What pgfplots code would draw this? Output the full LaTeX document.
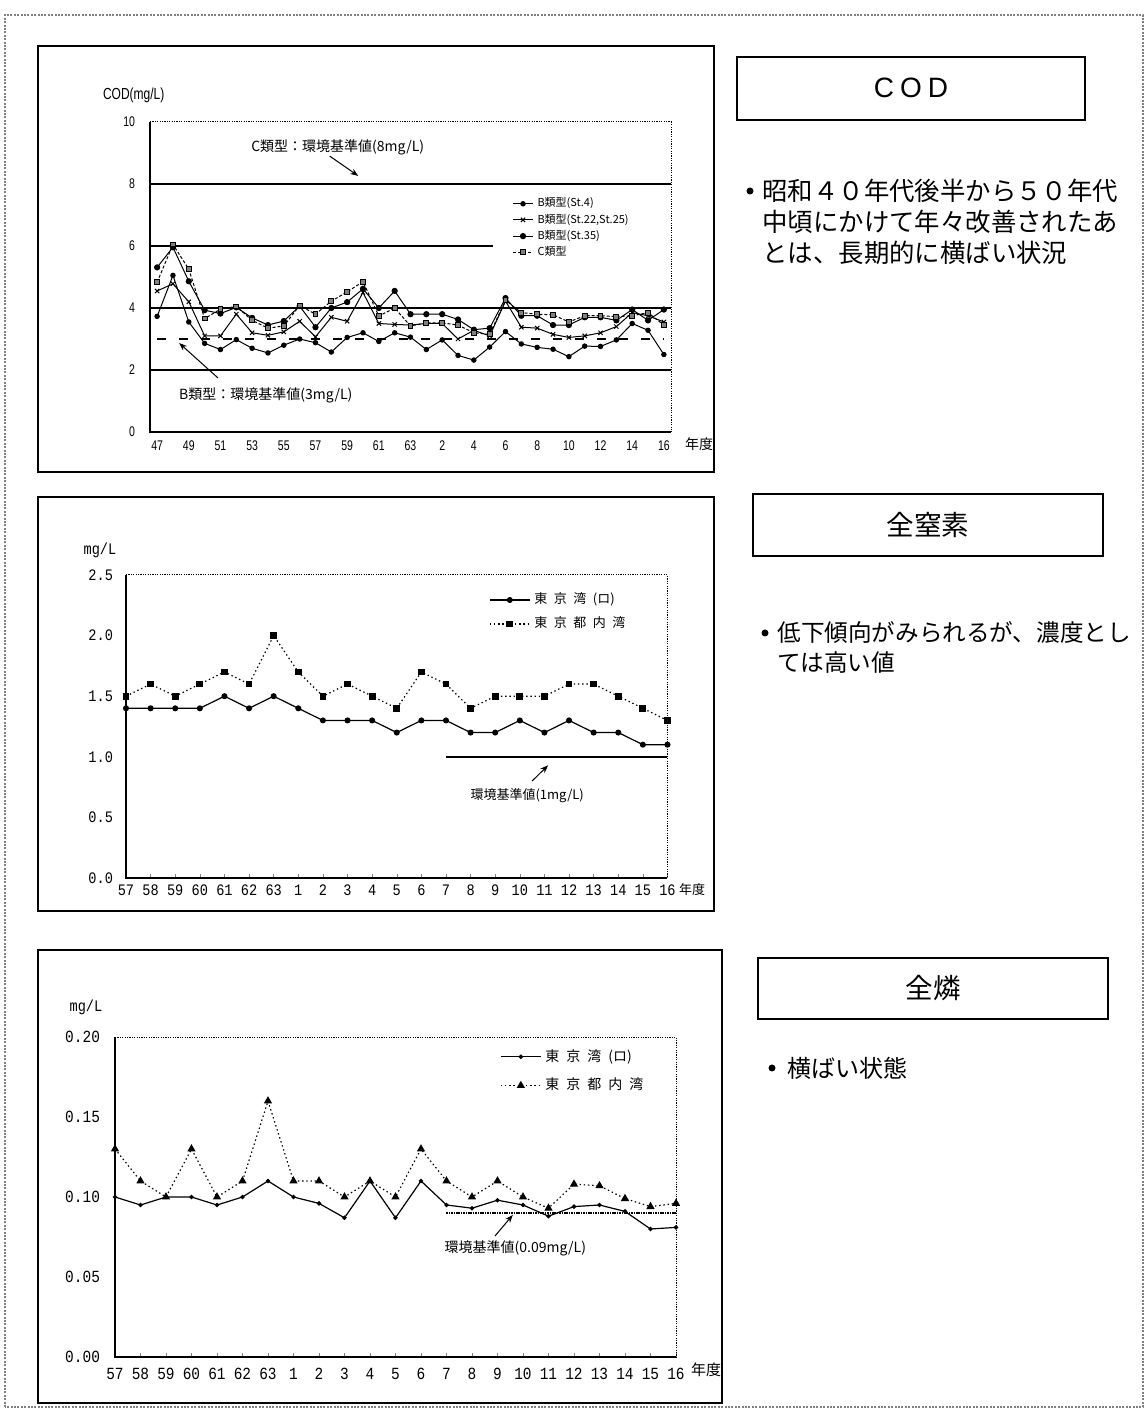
\documentclass[border=0pt]{standalone}
\usepackage{fontspec}
\setmainfont{Noto Sans CJK JP}
\newfontfamily\codfont[FakeStretch=0.75]{Liberation Sans}
\newfontfamily\sansfont{Liberation Sans}
\newfontfamily\monofont[FakeStretch=0.85]{Liberation Mono}
\usepackage{pgfplots}
\usepackage{pgfplotstable}
\pgfplotsset{compat=1.18}
\usetikzlibrary{arrows.meta}

\pgfplotstableread{
i st4 st22 st35 c
0 3.73 4.55 5.31 4.83
1 5.05 4.78 5.96 6.05
2 3.55 4.20 4.86 5.25
3 2.86 3.10 3.93 3.66
4 2.66 3.10 3.82 3.96
5 2.98 3.80 4.02 4.05
6 2.70 3.20 3.68 3.60
7 2.55 3.12 3.45 3.35
8 2.80 3.23 3.58 3.42
9 3.00 3.57 4.06 4.08
10 2.88 3.07 3.38 3.80
11 2.58 3.70 4.00 4.22
12 3.05 3.57 4.19 4.52
13 3.20 4.50 4.62 4.85
14 2.92 3.50 4.00 3.74
15 3.20 3.47 4.55 4.00
16 3.06 3.45 3.80 3.42
17 2.66 3.50 3.80 3.52
18 2.97 3.50 3.80 3.52
19 2.47 3.00 3.63 3.45
20 2.32 3.28 3.30 3.20
21 2.74 3.10 3.35 3.15
22 3.24 4.22 4.32 4.25
23 2.84 3.38 3.75 3.85
24 2.73 3.35 3.75 3.80
25 2.67 3.15 3.45 3.78
26 2.43 3.05 3.45 3.55
27 2.77 3.10 3.70 3.75
28 2.76 3.20 3.70 3.75
29 2.97 3.40 3.60 3.72
30 3.50 3.85 3.95 3.75
31 3.28 3.75 3.60 3.85
32 2.50 3.55 3.95 3.45
}\coddata

\pgfplotstableread{
i tb inner
0 1.4 1.5
1 1.4 1.6
2 1.4 1.5
3 1.4 1.6
4 1.5 1.7
5 1.4 1.6
6 1.5 2.0
7 1.4 1.7
8 1.3 1.5
9 1.3 1.6
10 1.3 1.5
11 1.2 1.4
12 1.3 1.7
13 1.3 1.6
14 1.2 1.4
15 1.2 1.5
16 1.3 1.5
17 1.2 1.5
18 1.3 1.6
19 1.2 1.6
20 1.2 1.5
21 1.1 1.4
22 1.1 1.3
}\ndata

\pgfplotstableread{
i tb inner
0 0.100 0.130
1 0.095 0.110
2 0.100 0.100
3 0.100 0.130
4 0.095 0.100
5 0.100 0.110
6 0.110 0.160
7 0.100 0.110
8 0.096 0.110
9 0.087 0.100
10 0.110 0.110
11 0.087 0.100
12 0.110 0.130
13 0.095 0.110
14 0.093 0.100
15 0.098 0.110
16 0.095 0.100
17 0.088 0.093
18 0.094 0.108
19 0.095 0.107
20 0.091 0.099
21 0.080 0.094
22 0.081 0.096
}\pdata

\begin{document}
\begin{tikzpicture}[x=0.5pt,y=0.5pt]
\path[use as bounding box] (0,0) rectangle (1147,1410);
% outer dotted border
\draw[gray, line width=0.6pt, dash pattern=on 1pt off 0.7pt] (5,3) rectangle (1143,1395);
% chart frames
\draw[line width=0.8pt] (38,938) rectangle (714,1364);
\draw[line width=0.8pt] (38,499) rectangle (714,913);
\draw[line width=0.8pt] (38,7) rectangle (722,460);

% ---------------- COD ----------------
\begin{axis}[
  at={(75pt,489pt)}, anchor=south west, scale only axis,
  width=260.5pt, height=155pt,
  xmin=-0.45, xmax=32.45, ymin=0, ymax=10,
  xtick={0,2,...,32},
  xticklabels={47,49,51,53,55,57,59,61,63,2,4,6,8,10,12,14,16},
  ytick={0,2,4,6,8,10}, yticklabels={0,2,4,6,8,10},
  tick style={draw=none},
  axis line style={draw=none},
  ticklabel style={font=\codfont\fontsize{7}{8}\selectfont},
  yticklabel style={xshift=-4pt},
  xticklabel style={yshift=-1pt},
  clip=false,
  legend style={at={(0.695,0.77)}, anchor=north west, draw=none, fill=none,
    font=\fontsize{5.5}{6}\selectfont, row sep=-2pt, inner sep=0pt,
    cells={anchor=west}},
  legend cell align=left,
  legend image code/.code={\draw[mark repeat=2,mark phase=2,#1] plot coordinates {(0pt,0pt) (5pt,0pt) (10pt,0pt)};},
]
\draw[line width=0.7pt] (rel axis cs:0,1) -- (rel axis cs:0,0) -- (rel axis cs:1,0);
\draw[line width=0.5pt, dash pattern=on 0.6pt off 0.6pt] (rel axis cs:0,1) -- (rel axis cs:1,1) -- (rel axis cs:1,0);
\addplot[forget plot, line width=1.1pt] coordinates {(-0.45,8) (32.45,8)};
\addplot[forget plot, line width=0.6pt] coordinates {(-0.45,6) (21.2,6)};
\addplot[forget plot, line width=0.6pt] coordinates {(-0.45,4) (32.45,4)};
\addplot[forget plot, line width=0.6pt] coordinates {(-0.45,2) (32.45,2)};
\addplot[forget plot, line width=0.9pt, dash pattern=on 4.5pt off 6.5pt] coordinates {(0,3) (32,3)};
\addplot[black, line width=0.5pt, mark=*, mark size=1.1pt] table[x=i,y=st4] {\coddata};
\addlegendentry{B類型(St.4)}
\addplot[black, line width=0.5pt, mark=x, mark size=1.5pt] table[x=i,y=st22] {\coddata};
\addlegendentry{B類型(St.22,St.25)}
\addplot[black, line width=0.5pt, mark=*, mark size=1.3pt] table[x=i,y=st35] {\coddata};
\addlegendentry{B類型(St.35)}
\addplot[black, line width=0.5pt, dash pattern=on 1.5pt off 1pt, mark=square*, mark size=1.2pt, mark options={solid, fill=gray}] table[x=i,y=c] {\coddata};
\addlegendentry{C類型}
\node[anchor=west, font=\fontsize{7}{8}\selectfont] at (axis cs:5.5,9.19) {C類型：環境基準値(8mg/L)};
\draw[line width=0.5pt, -{Stealth[length=4pt,width=3pt]}] (axis cs:10.9,8.9) -- (axis cs:12.7,8.26);
\node[anchor=west, font=\fontsize{7}{8}\selectfont] at (axis cs:0.95,1.19) {B類型：環境基準値(3mg/L)};
\draw[line width=0.5pt, -{Stealth[length=4pt,width=3pt]}] (axis cs:3.85,1.74) -- (axis cs:1.39,2.87);
\end{axis}
\node[anchor=west, font=\codfont\fontsize{8}{9}\selectfont] at (96,1315) {COD(mg/L)};
\node[font=\fontsize{7}{8}\selectfont] at (699,966) {年度};

% ---------------- Total nitrogen ----------------
\begin{axis}[
  at={(63pt,266pt)}, anchor=south west, scale only axis,
  width=270.75pt, height=151.5pt,
  xmin=0, xmax=22, ymin=0, ymax=2.5,
  xtick={0,...,22},
  xticklabels={57,58,59,60,61,62,63,1,2,3,4,5,6,7,8,9,10,11,12,13,14,15,16},
  ytick={0,0.5,1,1.5,2,2.5}, yticklabels={0.0,0.5,1.0,1.5,2.0,2.5},
  axis line style={draw=none},
  tick align=inside, xtick pos=bottom, ytick style={draw=none},
  major tick length=2pt,
  ticklabel style={font=\monofont\fontsize{8}{9}\selectfont},
  yticklabel style={xshift=-3pt},
  clip=false,
  legend style={at={(0.67,0.955)}, anchor=north west, draw=none, fill=none,
    font=\fontsize{6.5}{7}\selectfont, row sep=1pt, inner sep=0pt,
    cells={anchor=west}},
  legend cell align=left,
  legend image code/.code={\draw[mark repeat=2,mark phase=2,#1] plot coordinates {(0pt,0pt) (10pt,0pt) (20pt,0pt)};},
]
\draw[line width=0.7pt] (rel axis cs:0,1) -- (rel axis cs:0,0) -- (rel axis cs:1,0);
\draw[line width=0.5pt, dash pattern=on 0.6pt off 0.6pt] (rel axis cs:0,1) -- (rel axis cs:1,1) -- (rel axis cs:1,0);
\addplot[forget plot, line width=1.2pt] coordinates {(13,1.0) (22,1.0)};
\addplot[black, line width=0.6pt, mark=*, mark size=1.2pt] table[x=i,y=tb] {\ndata};
\addlegendentry{東\hspace{0.5em}京\hspace{0.5em}湾\hspace{0.5em}(ロ)}
\addplot[black, line width=0.6pt, dash pattern=on 0.7pt off 1.4pt, mark=square*, mark size=1.4pt, mark options={solid}] table[x=i,y=inner] {\ndata};
\addlegendentry{東\hspace{0.5em}京\hspace{0.5em}都\hspace{0.5em}内\hspace{0.5em}湾}
\node[font=\fontsize{6.5}{7}\selectfont] at (axis cs:16.3,0.677) {環境基準値(1mg/L)};
\draw[line width=0.5pt, -{Stealth[length=4pt,width=3pt]}] (axis cs:16.5,0.80) -- (axis cs:17.15,0.93);
\end{axis}
\node[font=\monofont\fontsize{8}{9}\selectfont] at (100,860) {mg/L};
\node[font=\fontsize{6.5}{7}\selectfont] at (692,520) {年度};

% ---------------- Total phosphorus ----------------
\begin{axis}[
  at={(57.5pt,26.5pt)}, anchor=south west, scale only axis,
  width=280.5pt, height=160pt,
  xmin=0, xmax=22, ymin=0, ymax=0.2,
  xtick={0,...,22},
  xticklabels={57,58,59,60,61,62,63,1,2,3,4,5,6,7,8,9,10,11,12,13,14,15,16},
  ytick={0,0.05,0.1,0.15,0.2}, yticklabels={0.00,0.05,0.10,0.15,0.20},
  axis line style={draw=none},
  tick align=inside, xtick pos=bottom, ytick style={draw=none},
  major tick length=2pt,
  ticklabel style={font=\monofont\fontsize{8.5}{9}\selectfont},
  yticklabel style={xshift=-4pt},
  xticklabel style={yshift=-2pt},
  clip=false,
  legend style={at={(0.686,0.975)}, anchor=north west, draw=none, fill=none,
    font=\fontsize{7}{8}\selectfont, row sep=3pt, inner sep=0pt,
    cells={anchor=west}},
  legend cell align=left,
  legend image code/.code={\draw[mark repeat=2,mark phase=2,#1] plot coordinates {(0pt,0pt) (10pt,0pt) (20pt,0pt)};},
]
\draw[line width=0.7pt] (rel axis cs:0,1) -- (rel axis cs:0,0) -- (rel axis cs:1,0);
\draw[line width=0.5pt, dash pattern=on 0.6pt off 0.6pt] (rel axis cs:0,1) -- (rel axis cs:1,1) -- (rel axis cs:1,0);
\addplot[forget plot, line width=1.4pt, dash pattern=on 0.8pt off 0.4pt] coordinates {(13,0.09) (22,0.09)};
\addplot[black, line width=0.6pt, mark=*, mark size=0.8pt] table[x=i,y=tb] {\pdata};
\addlegendentry{東\hspace{0.5em}京\hspace{0.5em}湾\hspace{0.5em}(ロ)}
\addplot[black, line width=0.6pt, dash pattern=on 0.7pt off 1.4pt, mark=triangle*, mark size=1.8pt, mark options={solid}] table[x=i,y=inner] {\pdata};
\addlegendentry{東\hspace{0.5em}京\hspace{0.5em}都\hspace{0.5em}内\hspace{0.5em}湾}
\node[font=\fontsize{7}{8}\selectfont] at (axis cs:15.7,0.068) {環境基準値(0.09mg/L)};
\draw[line width=0.5pt, -{Stealth[length=4pt,width=3pt]}] (axis cs:14.9,0.0756) -- (axis cs:15.6,0.0888);
\end{axis}
\node[font=\monofont\fontsize{8}{9}\selectfont] at (86,403) {mg/L};
\node[font=\fontsize{7.5}{8}\selectfont] at (706,40) {年度};

% ---------------- Right-hand texts ----------------
\draw[line width=1pt] (737,1290) rectangle (1085,1353);
\node[font=\sansfont\fontsize{14}{16}\selectfont] at (911,1322) {C\kern3pt O\kern3pt D};
\fill (750,1219) circle (3.5);
\node[anchor=west, inner sep=0pt, font=\fontsize{12.7}{14}\selectfont] at (762,1219) {昭和４０年代後半から５０年代};
\node[anchor=west, inner sep=0pt, font=\fontsize{12.7}{14}\selectfont] at (762,1188.5) {中頃にかけて年々改善されたあ};
\node[anchor=west, inner sep=0pt, font=\fontsize{12.7}{14}\selectfont] at (762,1157.5) {とは、長期的に横ばい状況};

\draw[line width=1pt] (753,854) rectangle (1103,916);
\node[font=\fontsize{13.8}{16}\selectfont] at (928,885) {全窒素};
\fill (765,777) circle (3.5);
\node[anchor=west, inner sep=0pt, font=\fontsize{11.8}{14}\selectfont] at (777,777) {低下傾向がみられるが、濃度とし};
\node[anchor=west, inner sep=0pt, font=\fontsize{11.8}{14}\selectfont] at (777,747) {ては高い値};

\draw[line width=1pt] (758,391) rectangle (1108,452);
\node[font=\fontsize{13.8}{16}\selectfont] at (933,422) {全燐};
\fill (772,342) circle (3.5);
\node[anchor=west, inner sep=0pt, font=\fontsize{12}{14}\selectfont] at (787,342) {横ばい状態};
\end{tikzpicture}
\end{document}
